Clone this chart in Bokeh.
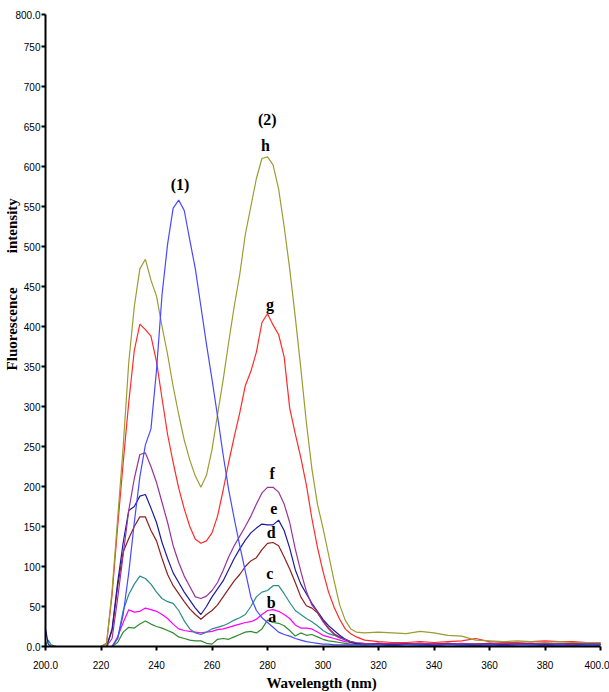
import math
from bokeh.plotting import figure
from bokeh.models import Range1d, FixedTicker, Label, ColumnDataSource, LinearAxis
from bokeh.core.properties import value
from bokeh.embed import file_html
from bokeh.resources import INLINE

# ---------------- data ----------------
lead_nm = [200, 201, 202, 204, 210, 220]
main_nm = list(range(222, 313, 2))
tail_nm = list(range(315, 401, 5))
wavelength = lead_nm + main_nm + tail_nm

zero_lead = [0, 0, 0, 0, 0, 0]

curve_h = zero_lead + [
    3, 70, 160, 250, 355, 425, 472, 484, 458, 438,
    400, 365, 325, 290, 258, 233, 213, 199, 214, 246,
    290, 333, 380, 425, 465, 515, 550, 585, 610, 612,
    602, 572, 525, 472, 412, 348, 280, 222, 178, 148,
    115, 82, 52, 33, 22, 18] + [
    17, 18, 17, 16, 19, 17, 14, 13, 8, 7, 6, 7, 6, 5, 6, 5, 5, 5]

curve_g = zero_lead + [
    4, 65, 150, 230, 305, 370, 403, 396, 388, 356,
    310, 265, 230, 198, 172, 150, 134, 129, 132, 142,
    163, 195, 230, 262, 292, 326, 344, 368, 405, 416,
    402, 390, 362, 298, 266, 236, 202, 160, 124, 94,
    68, 49, 34, 22, 16, 12] + [
    8, 6, 5, 5, 6, 5, 6, 7, 10, 6, 5, 5, 6, 7, 6, 6, 5, 5]

curve_1 = zero_lead + [
    0, 0, 10, 40, 92, 155, 212, 252, 272, 345,
    440, 503, 548, 558, 545, 508, 472, 425, 378, 334,
    288, 240, 196, 160, 126, 94, 62, 45, 36, 30,
    24, 18, 15, 13, 10, 8, 6, 5, 4, 3,
    3, 2, 2, 2, 2, 2] + [
    2, 2, 1, 2, 2, 1, 2, 2, 1, 2, 1, 2, 2, 1, 2, 1, 2, 2]

curve_f = zero_lead + [
    0, 10, 60, 115, 170, 210, 240, 242, 225, 205,
    180, 155, 126, 105, 88, 75, 62, 60, 63, 70,
    80, 95, 112, 126, 138, 150, 163, 178, 192, 199,
    199, 193, 178, 155, 122, 94, 69, 52, 43, 31,
    22, 15, 11, 9, 6, 5] + [
    4, 3, 4, 3, 4, 3, 3, 4, 3, 3, 4, 3, 3, 4, 3, 3, 4, 3]

curve_e = [22, 3, 0, 0, 0, 0] + [
    0, 22, 80, 130, 170, 175, 188, 190, 173, 155,
    130, 110, 92, 80, 68, 58, 48, 40, 50, 62,
    72, 82, 96, 110, 122, 133, 142, 148, 153, 152,
    152, 158, 145, 123, 96, 78, 66, 54, 44, 34,
    26, 20, 14, 9, 5, 4] + [
    3, 3, 2, 3, 3, 2, 3, 3, 2, 3, 2, 3, 3, 2, 3, 2, 3, 2]

curve_d = zero_lead + [
    0, 20, 75, 118, 135, 150, 162, 162, 145, 132,
    110, 90, 76, 66, 56, 47, 40, 34, 40, 45,
    52, 62, 72, 82, 90, 100, 107, 111, 121, 129,
    130, 126, 112, 97, 80, 62, 51, 48, 42, 32,
    23, 16, 12, 9, 6, 4] + [
    3, 4, 3, 4, 3, 3, 4, 3, 3, 4, 3, 3, 4, 3, 3, 4, 3, 3]

curve_c = [0, 8, 2, 0, 0, 0] + [
    0, 0, 10, 45, 65, 78, 88, 85, 78, 68,
    60, 56, 54, 45, 32, 22, 17, 15, 18, 22,
    24, 26, 29, 33, 36, 40, 50, 62, 68, 70,
    76, 76, 66, 55, 45, 40, 35, 31, 26, 20,
    16, 14, 11, 8, 6, 4] + [
    3, 3, 2, 3, 2, 3, 3, 2, 3, 2, 3, 3, 2, 3, 2, 3, 2, 3]

curve_b = zero_lead + [
    0, 0, 12, 30, 46, 43, 44, 48, 46, 44,
    40, 35, 28, 22, 20, 19, 18, 17, 18, 19,
    21, 22, 24, 26, 28, 30, 31, 34, 40, 45,
    46, 44, 40, 35, 27, 23, 23, 22, 18, 14,
    12, 10, 8, 6, 5, 4] + [
    3, 4, 3, 3, 4, 3, 4, 3, 3, 4, 3, 3, 4, 3, 3, 3, 4, 3]

curve_a = zero_lead + [
    0, 0, 5, 18, 24, 23, 28, 32, 28, 25,
    23, 20, 17, 12, 10, 8, 7, 7, 4, 3,
    9, 10, 9, 12, 15, 18, 19, 17, 22, 33,
    30, 29, 26, 20, 13, 17, 14, 15, 12, 9,
    7, 6, 5, 4, 3, 3] + [
    2, 3, 2, 3, 2, 2, 3, 2, 2, 3, 2, 2, 3, 2, 2, 3, 2, 2]

series_names = ["a", "b", "c", "d", "e", "f", "g", "h", "(1)"]
series_values = [curve_a, curve_b, curve_c, curve_d, curve_e, curve_f, curve_g, curve_h, curve_1]
series_colors = ["#2E8B2E", "#FF00FF", "#2A8C8C", "#8E1F1F", "#1C1CA0", "#993399", "#FF2A2A", "#9C9C30", "#4848FF"]

x_ticks = [200, 220, 240, 260, 280, 300, 320, 340, 360, 380, 400]
x_tick_labels = ["200.0", "220", "240", "260", "280", "300", "320", "340", "360", "380", "400.0"]
y_ticks = [0, 50, 100, 150, 200, 250, 300, 350, 400, 450, 500, 550, 600, 650, 700, 750, 790]
y_tick_labels = ["0.0", "50", "100", "150", "200", "250", "300", "350", "400", "450", "500", "550",
                 "600", "650", "700", "750", "800.0"]

curve_labels = ["(1)", "(2)", "h", "g", "f", "e", "d", "c", "b", "a"]
curve_label_x = [248.5, 279.9, 279.3, 280.9, 281.7, 282.3, 281.3, 280.8, 281.3, 281.7]
curve_label_y = [577, 659, 626, 428, 216, 173, 143, 91, 55, 38]

x_title = "Wavelength (nm)"
y_title_words = ["Fluorescence", "intensity"]

# ---------------- layout (pixel geometry of the frame) ----------------
X0, X1, PX_PER_NM = 200, 400, 2.775     # axis origin at page x=45, 400 at x=600
Y_TOP, PX_PER_UNIT = 790, 0.8            # 0 at page y=646, top of axis at y=14
W, H = 609, 692
x_lo = X0 - 45 / PX_PER_NM
x_hi = X1 + (W - 600) / PX_PER_NM
y_hi = Y_TOP + 14 / PX_PER_UNIT
y_lo = -(H - 646) / PX_PER_UNIT

p = figure(width=W, height=H,
           x_range=Range1d(x_lo, x_hi), y_range=Range1d(y_lo, y_hi),
           output_backend="svg", toolbar_location=None,
           x_axis_location=None, y_axis_location=None,
           min_border=0, min_border_left=0, min_border_right=0,
           min_border_top=0, min_border_bottom=0)

p.grid.visible = False
p.outline_line_color = None
p.background_fill_color = "white"
p.border_fill_color = "white"

for vals, col in zip(series_values, series_colors):
    src = ColumnDataSource(dict(x=wavelength, y=vals))
    p.line("x", "y", source=src, line_color=col, line_width=1.2)

src_lab = ColumnDataSource(dict(x=curve_label_x, y=curve_label_y, t=curve_labels))
p.text("x", "y", text="t", source=src_lab, text_align="center", text_baseline="middle",
       text_font=value("Liberation Serif"), text_font_style="bold",
       text_font_size="16px", text_color="black")

tick_font = "Liberation Sans Narrow, Liberation Sans, Arial"
xaxis = LinearAxis(fixed_location=0, bounds=(X0, X1), ticker=FixedTicker(ticks=x_ticks),
                   major_label_overrides=dict(zip(x_ticks, x_tick_labels)))
yaxis = LinearAxis(fixed_location=X0, bounds=(0, Y_TOP), ticker=FixedTicker(ticks=y_ticks),
                   major_label_overrides=dict(zip(y_ticks, y_tick_labels)))
for ax in (xaxis, yaxis):
    ax.axis_line_color = "black"
    ax.axis_line_width = 2
    ax.major_tick_line_color = "black"
    ax.major_tick_line_width = 2
    ax.major_tick_in = 0
    ax.major_tick_out = 4
    ax.minor_tick_line_color = None
    ax.major_label_text_font = tick_font
    ax.major_label_text_font_size = "10px"
    ax.major_label_text_color = "black"
xaxis.major_label_standoff = 10
yaxis.major_label_standoff = 1
p.add_layout(xaxis, "below")
p.add_layout(yaxis, "left")

# axis titles
p.add_layout(Label(x=299.5, y=-45, text=x_title, text_align="center", text_baseline="middle",
                   text_font="Liberation Serif", text_font_style="bold",
                   text_font_size="15px", text_color="black"))
for word, yv in zip(y_title_words, (397, 526)):
    p.add_layout(Label(x=X0 - 42 / PX_PER_NM, y=yv, text=word, angle=math.pi / 2,
                       text_align="center", text_baseline="top",
                       text_font="Liberation Serif", text_font_style="bold",
                       text_font_size="15px", text_color="black"))

open("out.html", "w").write(file_html(p, INLINE))
